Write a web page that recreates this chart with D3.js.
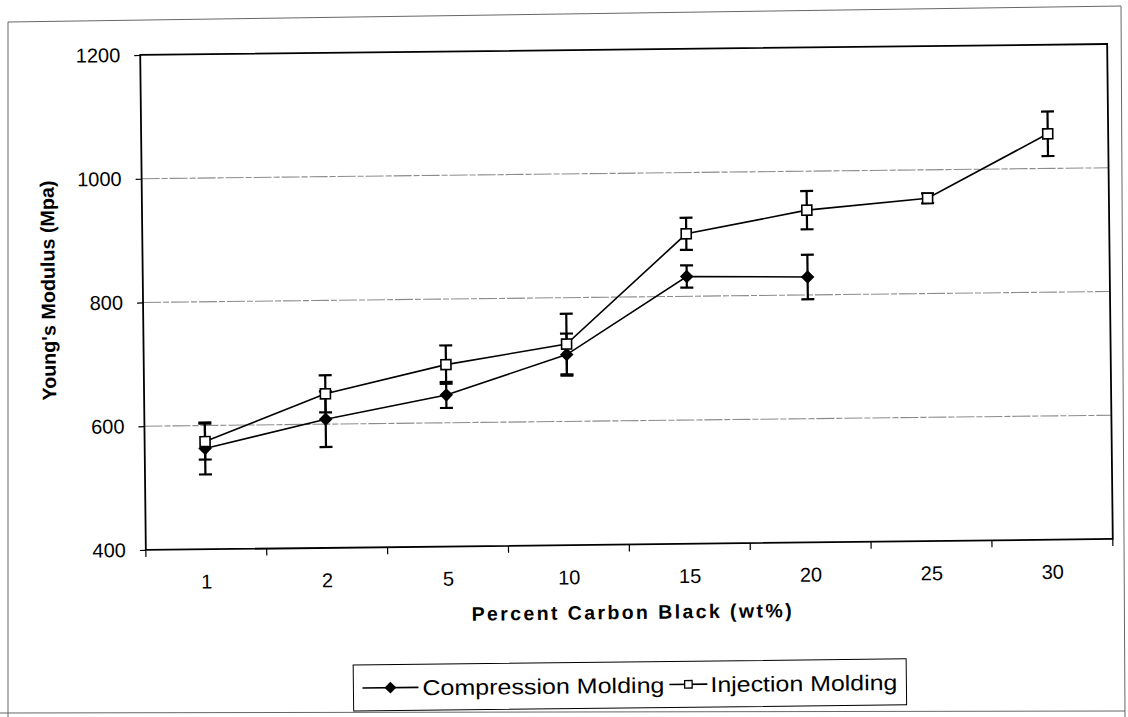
<!DOCTYPE html>
<html>
<head>
<meta charset="utf-8">
<script src="https://cdn.jsdelivr.net/npm/d3@7"></script>
<style>
  html, body { margin: 0; padding: 0; background: #fff; }
  svg { display: block; font-family: "Liberation Sans", Arial, sans-serif; }
</style>
</head>
<body>
<svg id="chart" width="1128" height="717"></svg>
<script>
// Carbon black loading (wt%) on the category axis
const categories = ["1", "2", "5", "10", "15", "20", "25", "30"];

// Young's modulus (MPa) with standard deviations
const compression    = [563, 608, 645, 708, 832, 829];
const compressionErr = [42, 45, 21, 34, 18, 36];
const injection      = [574, 649, 694, 725, 901, 937, 954, 1056];
const injectionErr   = [29, 30, 31, 49, 26, 31, 8, 36];

const yTicks = [400, 600, 800, 1000, 1200];
const seriesNames = ["Compression Molding", "Injection Molding"];

const svg = d3.select("#chart");

// outer frame of the figure
svg.append("path")
  .attr("d", "M8,22 L1121,6 L1125,717 M8,22 L8,717 M0,713 L1125,711")
  .attr("fill", "none").attr("stroke", "#666").attr("stroke-width", 1);

// whole chart sits slightly tilted on the page
const g = svg.append("g").attr("transform", "rotate(-0.65, 625, 297)");

const plot = { left: 143, right: 1110, top: 49.5, bottom: 544.5 };

const x = d3.scaleBand().domain(categories).range([plot.left, plot.right]);
const y = d3.scaleLinear().domain([400, 1200]).range([plot.bottom, plot.top]);

// horizontal gridlines
g.append("g").selectAll("line")
  .data(yTicks.filter(t => t > 400 && t < 1200))
  .join("line")
  .attr("x1", plot.left).attr("x2", plot.right)
  .attr("y1", d => y(d)).attr("y2", d => y(d))
  .attr("stroke", "#8c8c8c").attr("stroke-width", 1.1)
  .attr("stroke-dasharray", "18,2,6,2");

// plot area border
g.append("rect")
  .attr("x", plot.left).attr("y", plot.top)
  .attr("width", plot.right - plot.left).attr("height", plot.bottom - plot.top)
  .attr("fill", "none").attr("stroke", "#000").attr("stroke-width", 1.8);

// y axis
const yAxis = g.append("g")
  .attr("transform", `translate(${plot.left},0)`)
  .call(d3.axisLeft(y).tickValues(yTicks).tickSize(6).tickPadding(14).tickFormat(d3.format("d")));
yAxis.select(".domain").remove();
yAxis.selectAll(".tick line").attr("stroke", "#000").attr("stroke-width", 1.2);
yAxis.selectAll(".tick text")
  .attr("font-size", 20).attr("fill", "#000")
  .attr("font-family", "'Liberation Sans', Arial, sans-serif");

// x axis: labels centred in each band, tick marks on band edges
const xAxis = g.append("g")
  .attr("transform", `translate(0,${plot.bottom})`)
  .call(d3.axisBottom(x).tickSize(0).tickPadding(25));
xAxis.select(".domain").remove();
xAxis.selectAll(".tick text")
  .attr("font-size", 20).attr("fill", "#000")
  .attr("font-family", "'Liberation Sans', Arial, sans-serif");

g.append("g").selectAll("line")
  .data(d3.range(categories.length + 1))
  .join("line")
  .attr("x1", i => plot.left + i * x.step()).attr("x2", i => plot.left + i * x.step())
  .attr("y1", plot.bottom).attr("y2", plot.bottom + 7)
  .attr("stroke", "#000").attr("stroke-width", 1.2);

// axis titles
g.append("text")
  .attr("x", 628).attr("y", 619)
  .attr("text-anchor", "middle")
  .attr("font-size", 19.5).attr("font-weight", "bold")
  .attr("textLength", 320).attr("lengthAdjust", "spacing")
  .text("Percent Carbon Black (wt%)");

g.append("text")
  .attr("transform", "translate(55,284) rotate(-90)")
  .attr("text-anchor", "middle")
  .attr("font-size", 19.5).attr("font-weight", "bold")
  .attr("textLength", 220).attr("lengthAdjust", "spacingAndGlyphs")
  .text("Young's Modulus (Mpa)");

// series data joined to categories
const compData = compression.map((v, i) => ({ c: categories[i], v, e: compressionErr[i] }));
const injData  = injection.map((v, i) => ({ c: categories[i], v, e: injectionErr[i] }));
const cx = d => x(d.c) + x.bandwidth() / 2;

const line = d3.line().x(cx).y(d => y(d.v));

function drawErrorBars(data) {
  const eb = g.append("g").attr("stroke", "#000").attr("stroke-width", 2.2);
  eb.selectAll("line.stem").data(data).join("line").attr("class", "stem")
    .attr("x1", cx).attr("x2", cx)
    .attr("y1", d => y(d.v + d.e)).attr("y2", d => y(d.v - d.e));
  eb.selectAll("line.capTop").data(data).join("line").attr("class", "capTop")
    .attr("x1", d => cx(d) - 6.5).attr("x2", d => cx(d) + 6.5)
    .attr("y1", d => y(d.v + d.e)).attr("y2", d => y(d.v + d.e));
  eb.selectAll("line.capBot").data(data).join("line").attr("class", "capBot")
    .attr("x1", d => cx(d) - 6.5).attr("x2", d => cx(d) + 6.5)
    .attr("y1", d => y(d.v - d.e)).attr("y2", d => y(d.v - d.e));
}

drawErrorBars(compData);
drawErrorBars(injData);

g.append("path").datum(compData).attr("d", line)
  .attr("fill", "none").attr("stroke", "#000").attr("stroke-width", 1.6);
g.append("path").datum(injData).attr("d", line)
  .attr("fill", "none").attr("stroke", "#000").attr("stroke-width", 1.6);

const diamond = d3.symbol(d3.symbolSquare, 92);
const square = d3.symbol(d3.symbolSquare, 100);

g.append("g").selectAll("path").data(compData).join("path")
  .attr("d", diamond)
  .attr("transform", d => `translate(${cx(d)},${y(d.v)}) rotate(45)`)
  .attr("fill", "#000");

g.append("g").selectAll("path").data(injData).join("path")
  .attr("d", square)
  .attr("transform", d => `translate(${cx(d)},${y(d.v)})`)
  .attr("fill", "#fff").attr("stroke", "#000").attr("stroke-width", 1.6);

// legend
const leg = g.append("g");
leg.append("rect")
  .attr("x", 349).attr("y", 662).attr("width", 553).attr("height", 46)
  .attr("fill", "#fff").attr("stroke", "#000").attr("stroke-width", 1);

const legItems = [
  { name: seriesNames[0], x0: 358, x1: 414, tx: 418, tw: 242, sym: "diamond" },
  { name: seriesNames[1], x0: 665, x1: 703, tx: 706, tw: 187, sym: "square" }
];
const li = leg.selectAll("g.item").data(legItems).join("g").attr("class", "item");
li.append("line")
  .attr("x1", d => d.x0).attr("x2", d => d.x1)
  .attr("y1", 685).attr("y2", 685)
  .attr("stroke", "#000").attr("stroke-width", 1.6);
li.append("path")
  .attr("d", d => d.sym === "diamond" ? d3.symbol(d3.symbolSquare, 70)() : d3.symbol(d3.symbolSquare, 56)())
  .attr("transform", d => `translate(${(d.x0 + d.x1) / 2},685)` + (d.sym === "diamond" ? " rotate(45)" : ""))
  .attr("fill", d => d.sym === "diamond" ? "#000" : "#fff")
  .attr("stroke", "#000").attr("stroke-width", d => d.sym === "diamond" ? 0 : 1.3);
li.append("text")
  .attr("x", d => d.tx).attr("y", 693)
  .attr("font-size", 21.5)
  .attr("textLength", d => d.tw).attr("lengthAdjust", "spacingAndGlyphs")
  .text(d => d.name);
</script>
</body>
</html>
